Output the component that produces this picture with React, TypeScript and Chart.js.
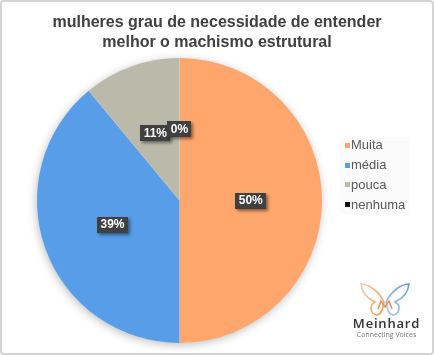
import React, { useEffect, useRef } from "react";
import { Chart, registerables } from "chart.js";

Chart.register(...registerables);

const titleLines = ["mulheres grau de necessidade de entender", "melhor o machismo estrutural"];
const categories = ["Muita", "média", "pouca", "nenhuma"];
const values = [50, 39, 11, 0];
const colors = ["#FFA66C", "#579DE8", "#BBBAAA", "#111111"];

const FONT = "'Liberation Sans', Arial, sans-serif";

const pieShadow = {
  id: "pieShadow",
  beforeDatasetsDraw(chart: any) {
    const meta = chart.getDatasetMeta(0);
    const a = meta.data[0];
    if (!a) return;
    const { x, y, outerRadius } = a.getProps(["x", "y", "outerRadius"], true);
    const ctx = chart.ctx;
    ctx.save();
    ctx.shadowColor = "rgba(0,0,0,0.28)";
    ctx.shadowBlur = 10;
    ctx.shadowOffsetX = -1;
    ctx.shadowOffsetY = 2;
    ctx.fillStyle = "#ffffff";
    ctx.beginPath();
    ctx.arc(x, y, outerRadius - 0.5, 0, Math.PI * 2);
    ctx.fill();
    ctx.restore();
  },
};

const titleDraw = {
  id: "titleDraw",
  afterDraw(chart: any) {
    const ctx = chart.ctx;
    ctx.save();
    ctx.font = `bold 16px ${FONT}`;
    ctx.fillStyle = "#404040";
    ctx.textAlign = "center";
    ctx.textBaseline = "middle";
    titleLines.forEach((t, i) => ctx.fillText(t, 217, 23 + i * 20));
    ctx.restore();
  },
};

const labelsAndLegend = {
  id: "labelsAndLegend",
  afterDatasetsDraw(chart: any) {
    const ctx = chart.ctx;
    const meta = chart.getDatasetMeta(0);
    const ds = chart.data.datasets[0];
    ctx.save();
    ctx.font = `bold 12px ${FONT}`;
    ctx.textAlign = "center";
    ctx.textBaseline = "middle";
    meta.data.forEach((arc: any, i: number) => {
      const p = arc.getProps(["x", "y", "startAngle", "endAngle", "outerRadius"], true);
      const mid = (p.startAngle + p.endAngle) / 2;
      const r = p.outerRadius * 0.5;
      const cx = p.x + Math.cos(mid) * r;
      const cy = p.y + Math.sin(mid) * r;
      const txt = `${ds.data[i]}%`;
      const w = ctx.measureText(txt).width + 7;
      const h = 16;
      ctx.save();
      ctx.shadowColor = "rgba(0,0,0,0.45)";
      ctx.shadowBlur = 3;
      ctx.shadowOffsetX = 2;
      ctx.shadowOffsetY = 2;
      ctx.fillStyle = "#404040";
      ctx.fillRect(Math.round(cx - w / 2), Math.round(cy - h / 2), Math.round(w), h);
      ctx.restore();
      ctx.fillStyle = "#ffffff";
      ctx.fillText(txt, cx, cy + 0.5);
    });
    ctx.restore();

    // legend
    ctx.save();
    ctx.fillStyle = "#fbfbfb";
    ctx.fillRect(340, 137, 70, 77);
    ctx.font = `13px ${FONT}`;
    ctx.textAlign = "left";
    ctx.textBaseline = "middle";
    const ys = [145.5, 165.5, 185, 205];
    chart.data.labels.forEach((lab: string, i: number) => {
      ctx.fillStyle = colors[i];
      ctx.fillRect(345, Math.round(ys[i] - 3), 5, 5);
      ctx.fillStyle = "#595959";
      ctx.fillText(lab, 351, ys[i]);
    });
    ctx.restore();
  },
};

function Logo() {
  return (
    <div style={{ position: "absolute", left: 349, top: 281, width: 75, height: 60, textAlign: "center" }}>
      <svg width="52" height="38" viewBox="0 0 52 38" style={{ display: "block", marginLeft: 10 }}>
        <defs>
          <linearGradient id="lw" x1="0" y1="0" x2="1" y2="1">
            <stop offset="0" stopColor="#F8C9A0" />
            <stop offset="1" stopColor="#F29A55" />
          </linearGradient>
          <linearGradient id="rw" x1="1" y1="0" x2="0" y2="1">
            <stop offset="0" stopColor="#5C9CE6" />
            <stop offset="1" stopColor="#A9C8F0" />
          </linearGradient>
        </defs>
        <path d="M25,21 C19,9 9,3 2,3 C3,12 9,18 16,21 C10,24 11,33 18,34 C23,33 24,27 25,21 Z" fill="none" stroke="url(#lw)" strokeWidth="1.6" />
        <path d="M27,21 C33,9 43,3 50,3 C49,12 43,18 36,21 C42,24 41,33 34,34 C29,33 28,27 27,21 Z" fill="none" stroke="url(#rw)" strokeWidth="1.6" />
        <path d="M19,28 L22,20 L26,26 L30,20 L33,28" fill="none" stroke="#E9965A" strokeWidth="1.6" />
      </svg>
      <div style={{ fontFamily: "'Open Sans', sans-serif", fontSize: 13, fontWeight: 600, color: "#333", letterSpacing: 0.8, lineHeight: "14px", marginTop: -3 }}>Meinhard</div>
      <div style={{ fontFamily: "'Open Sans', sans-serif", fontSize: 7, color: "#777", lineHeight: "9px" }}>Connecting Voices</div>
    </div>
  );
}

export default function App() {
  const ref = useRef<HTMLCanvasElement>(null);
  useEffect(() => {
    if (!ref.current) return;
    const chart = new Chart(ref.current, {
      type: "pie",
      data: {
        labels: categories,
        datasets: [{ data: values, backgroundColor: colors, borderWidth: 0 }],
      },
      options: {
        responsive: false,
        animation: false,
        layout: { padding: { top: 58, left: 37, right: 112, bottom: 12 } },
        plugins: {
          legend: { display: false },
          tooltip: { enabled: false },
          title: { display: false },
        },
      },
      plugins: [pieShadow, labelsAndLegend, titleDraw],
    });
    return () => chart.destroy();
  }, []);
  return (
    <div style={{ position: "fixed", left: 0, top: 0, width: 434, height: 355, background: "#fff" }}>
      <canvas ref={ref} width={434} height={355} style={{ display: "block" }} />
      <Logo />
      <div style={{ position: "absolute", left: 0, top: 0, width: 434, height: 355, boxSizing: "border-box", border: "2px solid #d4d4d4", borderRadius: 4, pointerEvents: "none" }} />
    </div>
  );
}
